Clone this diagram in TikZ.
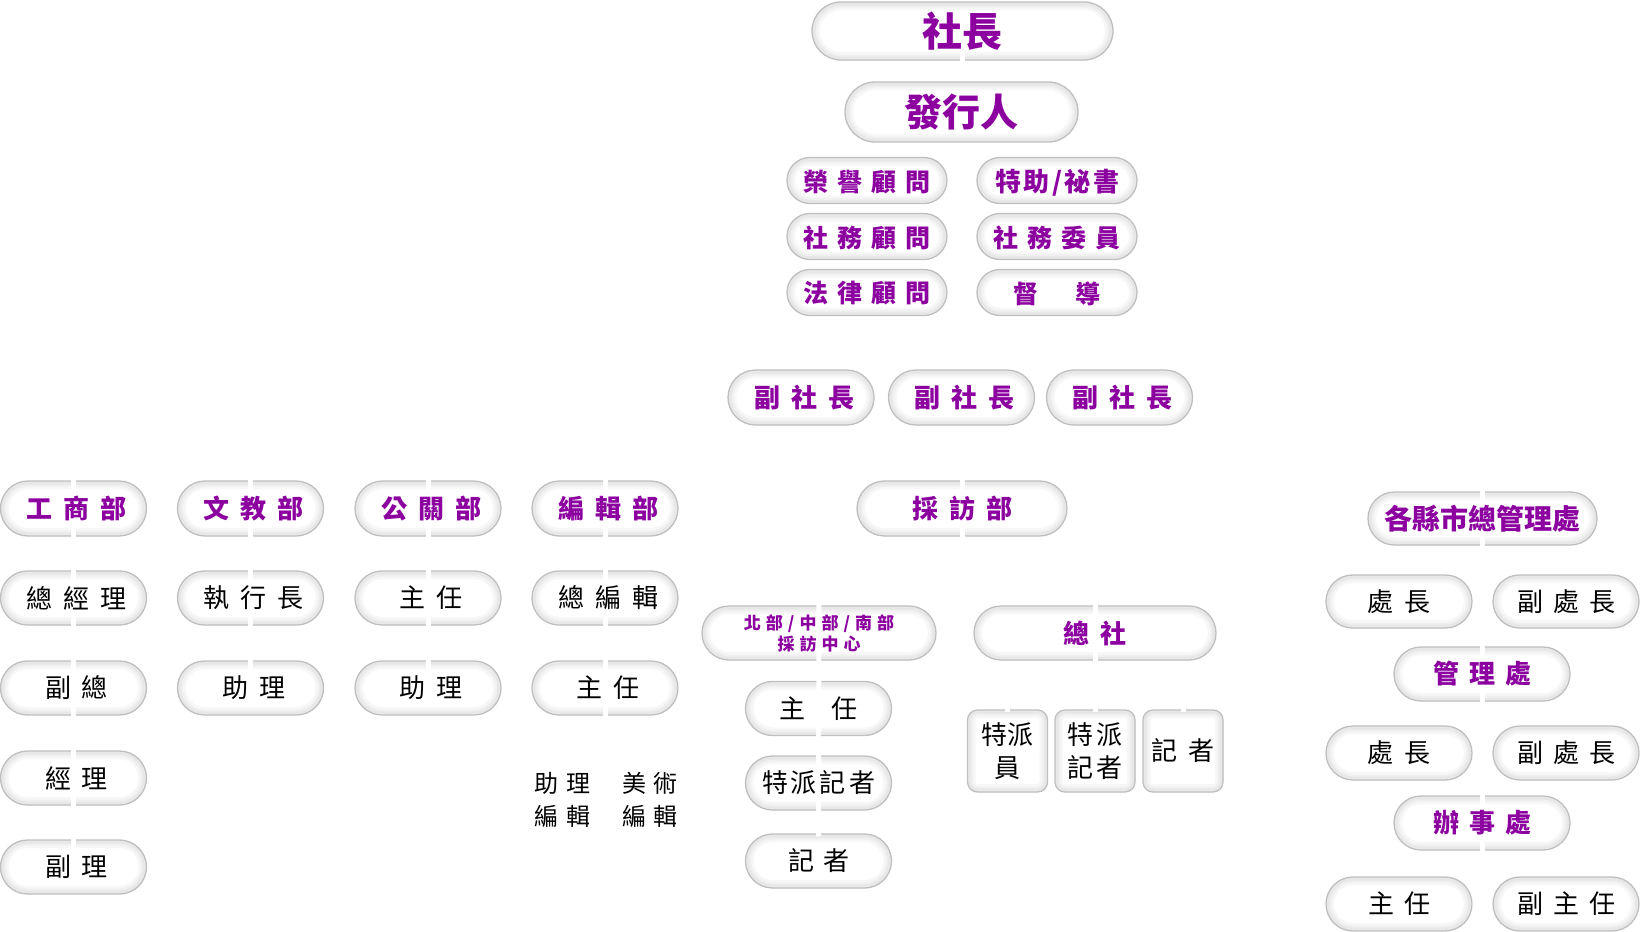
\documentclass[tikz,border=0pt]{standalone}
\usepackage{fontspec}
\setmainfont{Noto Sans CJK TC}
\usetikzlibrary{calc}
\definecolor{pur}{RGB}{140,0,160}
\newcommand\fsz[2]{\fontsize{#1bp}{#2bp}\selectfont}
\newcommand\sk[1]{\hspace*{#1bp}}
\tikzset{
  shbox/.style n args={3}{rectangle, inner sep=0pt, minimum width=#1bp, minimum height=#2bp,
    rounded corners=#3bp, fill=white, draw=black!25, line width=1.3bp,
    path picture={
      \foreach \lw/\sh in {16bp/3, 11bp/6, 7bp/9, 4bp/13}{
        \draw[black!\sh, line width=\lw, rounded corners=#3bp]
          (path picture bounding box.south west) rectangle (path picture bounding box.north east);
      }
      \draw[black!9, line width=5bp, yshift=1.8bp, rounded corners=#3bp]
          (path picture bounding box.south west) rectangle (path picture bounding box.north east);
    }},
  pill/.style 2 args={shbox={#1}{#2}{#2*0.5}},
  card/.style 2 args={shbox={#1}{#2}{10}},
  wline/.style={draw=white, line width=5bp},
  pt/.style={text=pur, font=\bfseries\fsz{26}{30}, inner sep=0pt},
  bt/.style={text=black, font=\fsz{26}{30}, inner sep=0pt},
  sh/.style={xshift=3bp},
}
\begin{document}
\begin{tikzpicture}[x=1bp,y=-1bp]
\useasboundingbox (0,0) rectangle (1640,931);
% ---------- boxes ----------
\node[pill={301}{58}] (sz) at (962.5,31) {};
\node[pill={233}{60}] (fx) at (961.5,112) {};
\node[pill={160}{46}] (ry) at (867,180.5) {};
\node[pill={160}{46}] (tz) at (1057,180.5) {};
\node[pill={160}{46}] (sg) at (867,236.5) {};
\node[pill={160}{46}] (sw) at (1057,236.5) {};
\node[pill={160}{46}] (fl) at (867,292.5) {};
\node[pill={160}{46}] (dd) at (1057,292.5) {};
\node[pill={146}{55}] (fs1) at (801,397.5) {};
\node[pill={146}{55}] (fs2) at (961.5,397.5) {};
\node[pill={146}{55}] (fs3) at (1119.5,397.5) {};
% departments
\node[pill={146}{55}] (gs) at (73.5,508.5) {};
\node[pill={146}{55}] (wj) at (250.5,508.5) {};
\node[pill={146}{55}] (gg) at (428,508.5) {};
\node[pill={146}{55}] (bj) at (605,508.5) {};
\node[pill={210}{55}] (cf) at (962,508.5) {};
\node[pill={229}{53}] (gx) at (1482.5,518.5) {};
% rows
\node[pill={146}{54}] (gs2) at (73.5,598) {};
\node[pill={146}{54}] (wj2) at (250.5,598) {};
\node[pill={146}{54}] (gg2) at (428,598) {};
\node[pill={146}{54}] (bj2) at (605,598) {};
\node[pill={146}{54}] (gs3) at (73.5,688) {};
\node[pill={146}{54}] (wj3) at (250.5,688) {};
\node[pill={146}{54}] (gg3) at (428,688) {};
\node[pill={146}{54}] (bj3) at (605,688) {};
\node[pill={146}{54}] (gs4) at (73.5,778) {};
\node[pill={146}{54}] (gs5) at (73.5,867) {};
% interview
\node[pill={234}{54}] (bb) at (819,633) {};
\node[pill={146}{54}] (zr) at (818.5,708.5) {};
\node[pill={146}{54}] (tp) at (818.5,783) {};
\node[pill={146}{54}] (jz) at (818.5,861) {};
\node[pill={242}{54}] (zs) at (1095,633) {};
\node[card={80}{82}] (tpy) at (1007.5,751) {};
\node[card={80}{82}] (tpj) at (1095,751) {};
\node[card={80}{82}] (jz2) at (1183,751) {};
% counties
\node[pill={146}{53}] (cz1) at (1399,601.5) {};
\node[pill={146}{53}] (fcz1) at (1566,601.5) {};
\node[pill={176}{54}] (glc) at (1482,674) {};
\node[pill={146}{54}] (cz2) at (1399,753) {};
\node[pill={146}{54}] (fcz2) at (1566,753) {};
\node[pill={176}{54}] (bsc) at (1482,823) {};
\node[pill={146}{54}] (zr3) at (1399,904) {};
\node[pill={146}{54}] (fzr) at (1566,904) {};
% ---------- white connectors ----------
\coordinate (busL) at (73.5,455);
\coordinate (busR) at (1482.5,455);
\coordinate (cfsplit) at (962,578);
\coordinate (zssplit) at (1095,690);
\coordinate (top) at (962.5,50);
\draw[wline] (top) -- ([yshift=-3bp]sz.south);
\draw[wline] (busL) -- (busR);
\draw[wline] (busL) -- (gs5.center);
\draw[wline] (wj |- busL) -- (wj3.center);
\draw[wline] (gg |- busL) -- (gg3.center);
\draw[wline] (bj |- busL) -- ([yshift=-15bp]bj3.south);
\draw[wline] (cf |- busL) -- (cfsplit);
\draw[wline] (bb |- cfsplit) -- (zs |- cfsplit);
\draw[wline] (bb |- cfsplit) -- ([yshift=-3bp]jz.north);
\draw[wline] (zs |- cfsplit) -- (zssplit);
\draw[wline] (tpy |- zssplit) -- (jz2 |- zssplit);
\draw[wline] (tpy |- zssplit) -- ([yshift=-3bp]tpy.north);
\draw[wline] (zssplit) -- ([yshift=-3bp]tpj.north);
\draw[wline] (jz2 |- zssplit) -- ([yshift=-3bp]jz2.north);
\draw[wline] (gx |- busL) -- (gx |- zr3);
\draw[wline] (cz1) -- (fcz1);
\draw[wline] (cz2) -- (fcz2);
\draw[wline] (zr3) -- (fzr);
% ---------- texts ----------
\node[pt, font=\bfseries\fsz{40}{44}] (t-sz) at (sz) {社長};
\node[pt, font=\bfseries\fsz{38}{42}] (t-fx) at (fx) {發行人};
\node[pt, font=\bfseries\fsz{25}{28}, yshift=-2bp] (t-ry) at (ry) {榮\sk{9}譽\sk{9}顧\sk{9}問};
\node[pt, font=\bfseries\fsz{26}{28}, yshift=-2bp] (t-tz) at (tz) {特\sk{3}助\sk{2}/\sk{2}祕\sk{3}書};
\node[pt, font=\bfseries\fsz{25}{28}, yshift=-1bp] (t-sg) at (sg) {社\sk{9}務\sk{9}顧\sk{9}問};
\node[pt, font=\bfseries\fsz{25}{28}, yshift=-1bp] (t-sw) at (sw) {社\sk{9}務\sk{9}委\sk{9}員};
\node[pt, font=\bfseries\fsz{25}{28}, yshift=-1bp] (t-fl) at (fl) {法\sk{9}律\sk{9}顧\sk{9}問};
\node[pt, font=\bfseries\fsz{25}{28}, yshift=-1bp] (t-dd) at (dd) {督\sk{37}導};
\node[pt, sh] (t-fs1) at (fs1) {副\sk{11}社\sk{11}長};
\node[pt, sh] (t-fs2) at (fs2) {副\sk{11}社\sk{11}長};
\node[pt, sh] (t-fs3) at (fs3) {副\sk{11}社\sk{11}長};
\node[pt, sh] (t-gs) at (gs) {工\sk{11}商\sk{11}部};
\node[pt, sh] (t-wj) at (wj) {文\sk{11}教\sk{11}部};
\node[pt, sh] (t-gg) at (gg) {公\sk{11}關\sk{11}部};
\node[pt, sh] (t-bj) at (bj) {編\sk{11}輯\sk{11}部};
\node[pt] (t-cf) at (cf) {採\sk{11}訪\sk{11}部};
\node[pt, font=\bfseries\fsz{28}{32}] (t-gx) at (gx) {各縣市總管理處};
\node[bt, sh] (t-gs2) at (gs2) {總\sk{11}經\sk{11}理};
\node[bt, sh] (t-wj2) at (wj2) {執\sk{11}行\sk{11}長};
\node[bt, sh] (t-gg2) at (gg2) {主\sk{11}任};
\node[bt, sh] (t-bj2) at (bj2) {總\sk{11}編\sk{11}輯};
\node[bt, sh] (t-gs3) at (gs3) {副\sk{11}總};
\node[bt, sh] (t-wj3) at (wj3) {助\sk{11}理};
\node[bt, sh] (t-gg3) at (gg3) {助\sk{11}理};
\node[bt, sh] (t-bj3) at (bj3) {主\sk{11}任};
\node[bt, sh] (t-gs4) at (gs4) {經\sk{11}理};
\node[bt, sh] (t-gs5) at (gs5) {副\sk{11}理};
\node[bt, font=\fsz{24}{33}, align=center] (t-zlbj) at (562.5,799.5) {助\sk{8}理\\編\sk{8}輯};
\node[bt, font=\fsz{24}{33}, align=center] (t-msbj) at (650,799.5) {美\sk{8}術\\編\sk{8}輯};
\node[pt, font=\bfseries\fsz{17}{21}, align=center] (t-bb) at (bb) {北\sk{5}部\sk{5}/\sk{5}中\sk{5}部\sk{5}/\sk{5}南\sk{5}部\\採\sk{5}訪\sk{5}中\sk{5}心};
\node[bt] (t-zr) at (zr) {主\sk{27}任};
\node[bt] (t-tp) at (tp) {特\sk{3}派\sk{3}記\sk{3}者};
\node[bt] (t-jz) at (jz) {記\sk{9}者};
\node[pt] (t-zs) at (zs) {總\sk{11}社};
\node[bt, font=\fsz{26}{33}, align=center] (t-tpy) at (tpy) {特派\\員};
\node[bt, font=\fsz{26}{33}, align=center] (t-tpj) at (tpj) {特\sk{3}派\\記\sk{3}者};
\node[bt] (t-jz2) at (jz2) {記\sk{11}者};
\node[bt] (t-cz1) at (cz1) {處\sk{11}長};
\node[bt] (t-fcz1) at (fcz1) {副\sk{10}處\sk{10}長};
\node[pt] (t-glc) at (glc) {管\sk{10}理\sk{10}處};
\node[bt] (t-cz2) at (cz2) {處\sk{11}長};
\node[bt] (t-fcz2) at (fcz2) {副\sk{10}處\sk{10}長};
\node[pt] (t-bsc) at (bsc) {辦\sk{10}事\sk{10}處};
\node[bt] (t-zr3) at (zr3) {主\sk{10}任};
\node[bt] (t-fzr) at (fzr) {副\sk{10}主\sk{10}任};
\end{tikzpicture}
\end{document}
